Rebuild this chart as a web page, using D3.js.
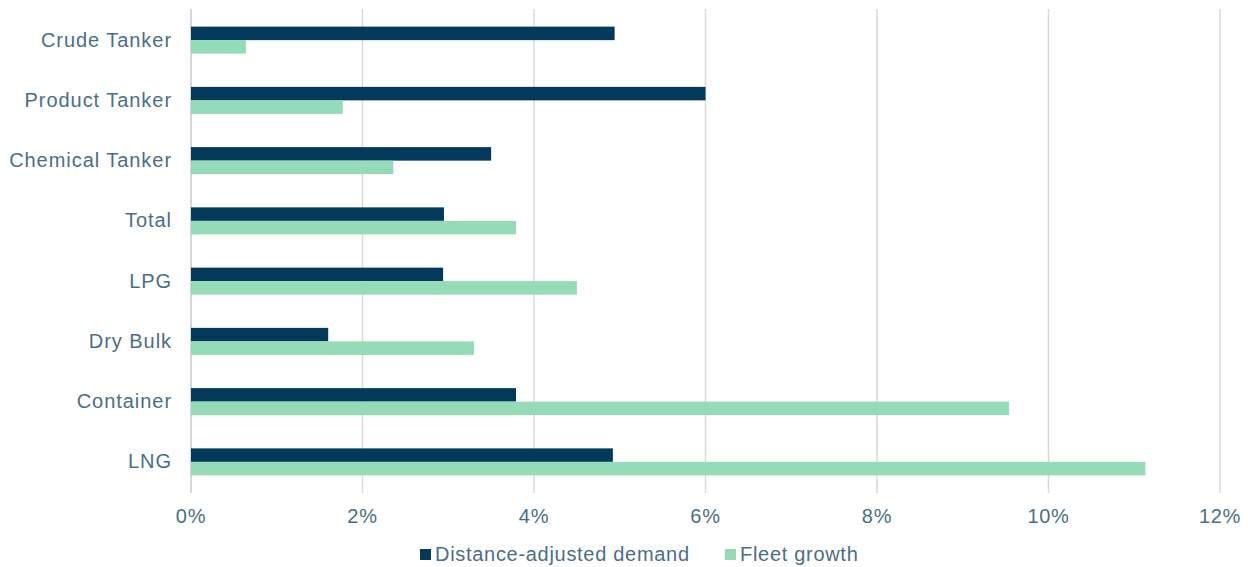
<!DOCTYPE html>
<html>
<head>
<meta charset="utf-8">
<script src="https://cdn.jsdelivr.net/npm/d3@7"></script>
<style>
  body { margin: 0; background: #fff; }
  text { font-family: "Liberation Sans", Arial, sans-serif; fill: #4b6e88; letter-spacing: 0.7px; }
  .cat { letter-spacing: 0.95px; }
</style>
</head>
<body>
<svg id="drawing_region"></svg>
<script>
const categories = ["Crude Tanker", "Product Tanker", "Chemical Tanker", "Total", "LPG", "Dry Bulk", "Container", "LNG"];
const demand = [4.94, 6.0, 3.5, 2.95, 2.94, 1.6, 3.79, 4.92];
const fleet = [0.64, 1.77, 2.36, 3.79, 4.5, 3.3, 9.54, 11.13];
const seriesNames = ["Distance-adjusted demand", "Fleet growth"];
const tickValues = [0, 2, 4, 6, 8, 10, 12];

const colors = ["#033a5b", "#96dbb8"];

const width = 1248, height = 567;
const svg = d3.select("#drawing_region")
    .attr("width", width)
    .attr("height", height);

const x = d3.scaleLinear()
    .domain([0, 12])
    .range([191, 1220]);

const y = d3.scaleBand()
    .domain(categories)
    .range([10, 492]);

// gridlines
svg.append("g")
    .selectAll("line")
    .data(tickValues)
    .enter()
    .append("line")
    .attr("x1", d => x(d))
    .attr("x2", d => x(d))
    .attr("y1", 9)
    .attr("y2", 493)
    .attr("stroke", d => d === 0 ? "#c8c8c8" : "#d9d9d9")
    .attr("stroke-width", 1.5);

const rows = categories.map((c, i) => ({ c: c, v: [demand[i], fleet[i]] }));
const barH = 13.5;

const g = svg.selectAll(".row")
    .data(rows)
    .enter()
    .append("g")
    .attr("class", "row")
    .attr("transform", d => `translate(0, ${y(d.c) + y.bandwidth() / 2})`);

g.selectAll("rect")
    .data(d => d.v)
    .enter()
    .append("rect")
    .attr("x", x(0))
    .attr("y", (d, i) => i === 0 ? -barH : 0)
    .attr("width", d => x(d) - x(0))
    .attr("height", barH)
    .attr("fill", (d, i) => colors[i]);

// category labels
svg.append("g")
    .selectAll("text")
    .data(categories)
    .enter()
    .append("text")
    .attr("class", "cat")
    .attr("x", 172)
    .attr("y", d => y(d) + y.bandwidth() / 2)
    .attr("dy", "0.33em")
    .attr("text-anchor", "end")
    .attr("font-size", "20px")
    .text(d => d);

// tick labels
svg.append("g")
    .selectAll("text")
    .data(tickValues)
    .enter()
    .append("text")
    .attr("x", d => x(d))
    .attr("y", 523)
    .attr("text-anchor", "middle")
    .attr("font-size", "20px")
    .text(d => d + "%");

// legend
const legend = svg.append("g");
const legendX = [420, 725];
seriesNames.forEach((s, i) => {
    legend.append("rect")
        .attr("x", legendX[i])
        .attr("y", 549)
        .attr("width", 11)
        .attr("height", 11)
        .attr("fill", colors[i]);
    legend.append("text")
        .attr("x", legendX[i] + 15)
        .attr("y", 561)
        .attr("font-size", "20px")
        .text(s);
});
</script>
</body>
</html>
